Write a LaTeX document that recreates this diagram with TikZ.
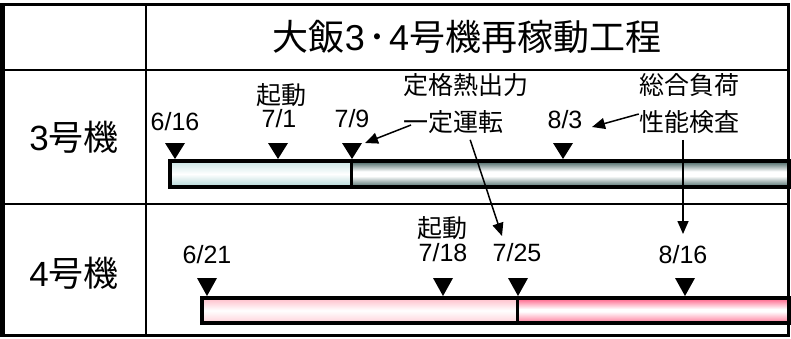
\documentclass[tikz,border=0pt]{standalone}
\usepackage{fontspec}
\setmainfont{Liberation Sans}
\newfontfamily\jp{Noto Sans CJK JP}
\usetikzlibrary{arrows.meta}

\definecolor{iceTop}{HTML}{C8E4E4}
\definecolor{iceBot}{HTML}{B0D6D6}
\definecolor{tealTop}{HTML}{3E5E5C}
\definecolor{tealBot}{HTML}{4A6A68}
\definecolor{roseTop}{HTML}{FFBCC8}
\definecolor{roseBot}{HTML}{FFD0D8}
\definecolor{pinkTop}{HTML}{FF5C84}
\definecolor{pinkBot}{HTML}{FF7898}

\pgfdeclareverticalshading{tealcyl}{100bp}{color(0bp)=(tealBot); color(25bp)=(tealBot);
  color(46bp)=(white); color(55bp)=(white); color(75bp)=(tealTop); color(100bp)=(tealTop)}
\pgfdeclareverticalshading{pinkcyl}{100bp}{color(0bp)=(pinkBot); color(25bp)=(pinkBot);
  color(48bp)=(white); color(53bp)=(white); color(75bp)=(pinkTop); color(100bp)=(pinkTop)}

\begin{document}
\begin{tikzpicture}[
  x=1pt, y=-1pt,
  titlesty/.style={font=\fontsize{36}{40}\selectfont, inner sep=0pt},
  unitsty/.style={font=\fontsize{35}{40}\selectfont, inner sep=0pt},
  datesty/.style={font=\fontsize{25}{28}\selectfont, inner sep=0pt},
  notesty/.style={font=\jp\fontsize{25}{28}\selectfont, inner sep=0pt},
  gridsty/.style={line width=2pt},
  barsty/.style={line width=4pt},
  marksty/.style={fill=black},
  arrow/.style={-{Triangle[length=13pt,width=11pt]}, line width=1.5pt}]

\useasboundingbox (0,0) rectangle (791,338);

% unit 3 bar
\shade[top color=iceTop, bottom color=iceBot, middle color=white] (170,161) rectangle (352,187);
\shade[shading=tealcyl] (352,161) rectangle (790,187);
\draw[barsty] (170,161) rectangle (792,187);
\draw[line width=3pt] (351.5,161) -- (351.5,187);

% unit 4 bar
\shade[top color=roseTop, bottom color=roseBot, middle color=white] (202,298) rectangle (518,323);
\shade[shading=pinkcyl] (518,298) rectangle (790,323);
\draw[barsty] (202,298) rectangle (792,323);
\draw[line width=3pt] (517.5,298) -- (517.5,323);

% markers
\foreach \x in {175,278,352,563}
  \fill[marksty] (\x-10,143) -- (\x+10,143) -- (\x,159) -- cycle;
\foreach \x in {207,443,518,685}
  \fill[marksty] (\x-10,278) -- (\x+10,278) -- (\x,296) -- cycle;

% frame
\draw[gridsty] (146,4) -- (146,336);
\draw[gridsty] (0,70) -- (788,70);
\draw[gridsty] (0,204) -- (788,204);
\draw[line width=3pt] (2.5,4.5) rectangle (788.5,335.5);
\draw[line width=5pt] (2.5,3) -- (2.5,337);

% titles
\node[titlesty] (title) at (467,37) {{\jp 大飯}3\kern3pt{\jp ･}\kern3pt4{\jp 号機再稼動工程}};
\node[unitsty] (unitA) at (74,137) {3{\jp 号機}};
\node[unitsty] (unitB) at (74,273) {4{\jp 号機}};

% unit 3 labels
\node[datesty] (d616) at (175,122) {6/16};
\node[notesty] (startA) at (281,95) {起動};
\node[datesty] (d71) at (279,119) {7/1};
\node[datesty] (d79) at (352,119) {7/9};
\node[datesty] (d83) at (565,120) {8/3};
\node[notesty, anchor=west] (rated) at (403,85) {定格熱出力};
\node[notesty, anchor=west] (run) at (403,122) {一定運転};
\node[notesty] (load) at (689,85) {総合負荷};
\node[notesty] (test) at (689,122) {性能検査};

% unit 4 labels
\node[datesty] (d621) at (207,255) {6/21};
\node[notesty] (startB) at (442,228) {起動};
\node[datesty] (d718) at (443,253) {7/18};
\node[datesty] (d725) at (517,253) {7/25};
\node[datesty] (d816) at (683,255) {8/16};

% arrows
\coordinate (toA) at (365,143);
\coordinate (toB) at (592,127);
\coordinate (toC) at (502,236);
\coordinate (toD) at (683,234);
\draw[arrow] ([xshift=8pt,yshift=-3pt]run.west) -- (toA);
\draw[arrow] ([yshift=8pt]test.west) -- (toB);
\draw[arrow] ([xshift=17pt,yshift=-6pt]run.south) -- (toC);
\draw[arrow] ([xshift=-6pt,yshift=-6pt]test.south) -- (toD);

\end{tikzpicture}
\end{document}
